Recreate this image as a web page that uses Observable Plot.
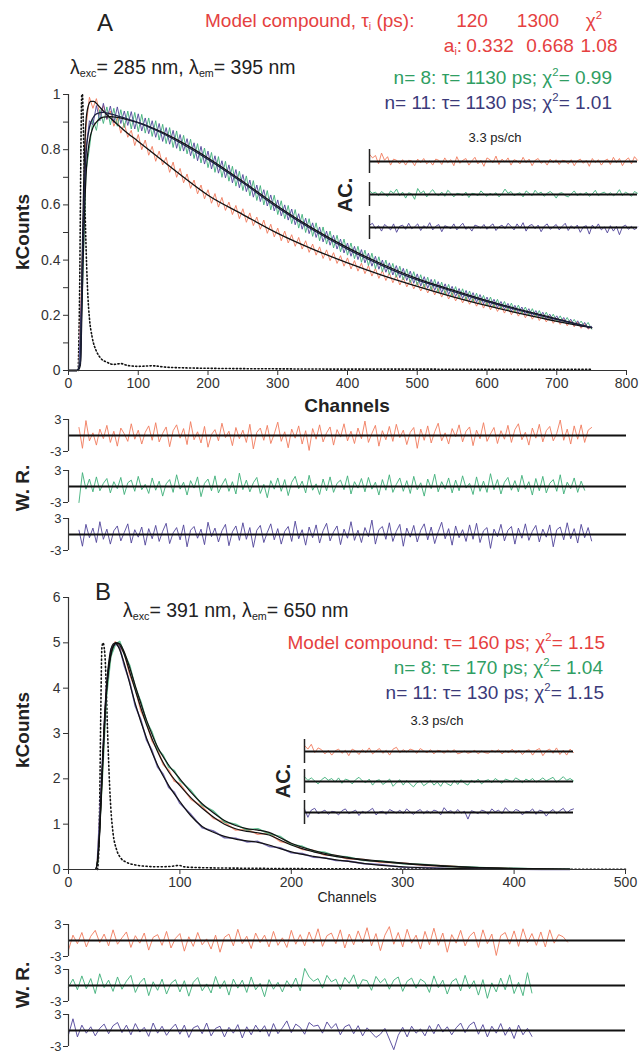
<!DOCTYPE html>
<html><head><meta charset="utf-8">
<script src="https://cdn.jsdelivr.net/npm/d3@7"></script>
<script src="https://cdn.jsdelivr.net/npm/@observablehq/plot@0.6"></script>
<style>
body{margin:0;background:#fff;}
#fig{position:relative;width:643px;height:1056px;font-family:"Liberation Sans",Arial,Helvetica,sans-serif;color:#222;overflow:hidden;background:#fff}
.t{position:absolute;white-space:nowrap;line-height:1;}
sub{font-size:0.55em;vertical-align:-0.3em;line-height:0}
sup{font-size:0.6em;vertical-align:0.65em;line-height:0}
</style></head><body><div id="fig"></div><script>
// ---------------- Panel A data ----------------
const xTicksA = [0,100,200,300,400,500,600,700,800];
const yTicksA = [0,0.2,0.4,0.6,0.8,1];
const yMinorA = [0.1,0.3,0.5,0.7,0.9];
// instrument response (dotted)
const irfChA = [14,16,18,19,20,21,22,23,24,26,28,30,34,40,46,55,65,75,85,100,120,140,160,200,300,400,500,600,750];
const irfA   = [0,0.3,0.85,1.0,1.0,0.92,0.8,0.68,0.56,0.38,0.26,0.19,0.12,0.07,0.045,0.03,0.022,0.025,0.018,0.015,0.017,0.012,0.01,0.008,0.006,0.005,0.005,0.004,0.004];
// fitted curves
const fitChRedA = [0,12,15,17,20,22,25,28,32,36,42,50,60,80,100,130,160,200,250,300,350,400,450,500,550,600,650,700,750];
const fitRedA   = [0,0,0.01,0.03,0.45,0.7,0.9,0.955,0.975,0.975,0.962,0.94,0.915,0.87,0.83,0.77,0.71,0.635,0.565,0.497,0.44,0.39,0.345,0.305,0.268,0.235,0.205,0.178,0.155];
const fitChA    = [0,12,15,17,20,22,25,30,35,40,50,60,80,100,130,160,200,250,300,350,400,450,500,550,600,650,700,750];
const fitBlueA  = [0,0,0.01,0.03,0.4,0.6,0.78,0.88,0.915,0.93,0.935,0.93,0.915,0.898,0.865,0.825,0.765,0.68,0.59,0.51,0.44,0.38,0.328,0.288,0.25,0.216,0.185,0.155];
const fitGreenA = [0,0,0.005,0.02,0.3,0.5,0.7,0.83,0.88,0.9,0.918,0.92,0.912,0.898,0.868,0.83,0.77,0.685,0.595,0.515,0.445,0.385,0.333,0.292,0.253,0.219,0.187,0.155];
// measured decays, counts, every 5 channels from channel 15
const dataStartA = 15, dataStepA = 5;
const countsRedA = [10,430,880,990,950,985,925,960,910,940,885,915,860,895,845,870,815,855,800,835,780,812,758,795,745,772,718,755,700,732,680,712,660,690,640,672,622,655,606,641,592,627,580,610,565,598,550,586,537,571,525,556,512,545,497,530,484,516,470,505,462,492,450,482,440,470,428,458,418,448,406,437,398,427,388,416,378,408,368,398,360,389,351,380,342,370,334,362,326,353,318,345,310,337,303,328,296,320,288,313,281,305,274,298,266,290,259,283,252,276,245,268,240,262,233,256,226,250,220,243,214,236,208,230,202,224,197,218,191,213,186,207,181,201,176,196,171,190,167,185,162,180,158,175,153,170,150,158];
const countsBlueA = [10,380,800,905,890,960,905,968,910,958,898,955,895,940,888,938,875,930,868,915,858,905,845,895,830,880,820,870,805,855,795,840,778,825,760,812,748,795,730,778,715,760,698,745,680,728,662,710,648,690,628,672,612,655,596,636,578,618,560,600,545,585,528,568,512,552,496,535,482,520,466,505,454,490,440,476,426,462,414,450,402,438,390,425,378,414,367,400,356,390,346,380,336,370,326,360,316,350,306,340,298,330,290,322,282,314,275,305,268,297,261,290,254,282,247,275,241,266,234,258,228,250,222,243,215,236,209,230,203,224,197,217,191,211,185,204,180,198,174,192,168,186,163,180,157,174,152,160];
const countsGreenA = [5,290,720,805,910,870,945,895,955,890,950,885,945,880,940,875,935,865,928,860,915,848,905,835,892,822,880,808,868,795,852,785,838,768,822,752,806,735,790,718,775,700,758,686,740,668,722,652,705,633,688,616,670,600,652,582,635,565,615,550,598,532,583,516,566,500,550,486,535,470,520,458,505,444,490,430,476,418,462,405,450,392,436,380,425,369,412,358,400,348,388,338,378,328,368,318,358,309,347,300,338,292,330,284,320,277,312,270,304,262,296,256,288,249,280,243,272,236,266,230,258,224,250,218,244,212,237,206,230,200,224,195,217,189,211,184,204,178,198,173,192,168,185,163,179,158,174,150];
// weighted residuals, every 5 channels from channel 15
const wrRedA = [1.5,-2.4,2.8,-1.0,0.5,-1.8,1.2,-0.6,1.9,-1.3,0.8,-2.0,1.4,0.3,-1.1,2.2,-0.7,1.0,-1.6,0.6,1.8,-0.9,2.4,-1.2,0.4,1.6,-2.1,0.9,2.0,-0.5,1.3,-1.7,2.6,-0.8,0.7,-1.4,1.7,-2.2,0.2,1.1,-1.0,2.3,-0.4,0.8,-1.9,1.5,-0.6,1.0,-1.3,2.1,-2.5,0.6,1.4,-0.9,1.9,-1.5,0.3,2.5,-1.1,0.7,-2.3,1.2,-0.5,1.8,-1.6,0.9,-2.8,1.3,-0.7,2.0,-1.2,0.5,1.6,-1.8,1.1,-0.3,2.2,-1.0,0.8,-1.5,1.4,-0.6,2.7,-1.3,0.4,1.9,-2.0,0.9,-0.8,1.7,-1.1,2.1,-0.4,1.0,-1.7,0.6,1.5,-2.4,1.2,-0.9,1.8,-1.4,0.7,2.3,-1.0,0.5,-1.6,1.3,-0.2,2.0,-1.2,0.8,1.6,-1.9,1.0,-0.6,2.4,-1.1,0.3,1.5,-1.5,0.9,-0.7,1.9,-1.3,1.1,2.2,-0.8,0.6,-1.8,1.4,-0.5,2.1,-1.2,0.9,1.7,-1.0,0.4,2.9,-0.9,1.2,-1.6,1.8,-0.7,2.0,-1.3,1.0,1.5];
const wrGreenA = [-3.0,2.6,-0.5,1.4,-1.0,1.8,-0.8,0.6,1.5,-1.2,0.9,-0.4,1.7,-1.5,0.7,1.2,-0.9,1.9,-0.6,0.4,-1.3,1.6,-0.7,1.0,-1.8,0.5,1.3,-1.1,2.2,-0.5,0.8,-1.6,1.1,-0.3,1.8,-1.9,0.6,1.4,-0.8,2.0,-1.2,0.3,1.5,-0.9,0.9,-1.4,2.5,-0.6,1.2,-1.0,0.7,1.7,-1.3,0.4,-2.1,1.1,-0.5,1.6,-0.9,1.3,-1.7,0.8,1.9,-0.4,1.0,-1.2,2.1,-0.7,0.5,-1.5,1.4,-0.8,1.8,-1.1,0.6,1.2,-0.6,2.0,-1.4,0.9,-0.3,1.5,-1.0,1.7,-0.5,0.8,-1.6,1.3,-0.7,2.2,-1.1,0.4,1.6,-0.9,1.1,-1.3,1.9,-0.6,0.7,-1.8,1.4,-0.4,2.3,-1.0,0.9,-0.5,1.6,-1.2,1.2,-0.8,2.0,-0.3,0.6,-1.5,1.8,-0.9,1.0,-1.1,2.4,-0.6,1.3,-1.4,0.8,1.7,-0.7,1.1,-1.0,2.1,-0.5,0.9,-1.6,1.5,-0.8,1.9,-1.2,0.6,1.3,-0.9,2.2,-1.4,0.8,-0.4,1.6,-1.1,1.0,-0.7];
const wrBlueA = [0.8,-2.2,1.9,-0.6,1.2,-1.5,2.4,-0.9,1.0,-1.8,0.7,1.6,-1.2,0.4,2.0,-1.6,0.9,-0.5,1.4,-2.0,1.1,-0.8,1.7,-1.3,0.6,2.1,-1.7,0.3,1.3,-1.0,1.8,-2.3,0.8,1.5,-0.7,1.0,-1.9,2.3,-0.4,1.2,-1.4,0.7,1.9,-2.1,0.5,1.6,-1.1,2.2,-0.9,1.3,-2.4,0.8,1.7,-1.5,0.4,2.0,-1.0,1.1,-1.8,0.6,1.5,-1.3,2.5,-0.8,0.9,-2.0,1.4,-0.6,1.8,-1.6,0.7,2.1,-1.2,0.5,1.6,-1.9,1.0,-0.7,2.4,-1.1,0.8,-1.5,1.3,-0.4,2.7,-1.8,0.9,1.5,-0.9,2.2,-1.3,0.6,1.9,-2.2,1.2,-0.5,1.7,-1.4,0.8,2.0,-1.0,1.4,-1.7,0.5,2.3,-0.8,1.1,-2.0,1.6,-0.6,0.9,-1.3,1.8,-0.9,2.1,-1.5,0.7,1.3,-2.6,1.0,-0.4,1.9,-1.2,0.8,1.5,-1.8,1.2,-0.7,2.0,-1.1,0.6,1.7,-1.4,1.0,-0.5,1.8,-2.3,0.9,1.4,-1.0,2.2,-0.8,1.1,-1.6,1.9,-0.6,1.3,-1.2];
// autocorrelation of residuals
const acRedA = [0.6,0.3,0.5,-0.2,0.7,0.1,0.4,-0.3,0.2,0.1,-0.2,0.15,-0.3,0.1,0.05,-0.35,0.2,-0.1,0.25,-0.2,0.05,-0.3,0.2,0.1,-0.25,0.3,-0.1,0.15,-0.35,0.4,-0.15,0.1,0.25,-0.3,0.05,0.35,-0.2,0.1,-0.4,0.3,0.15,-0.1,0.45,-0.25,0.2,-0.05,0.3,-0.3,0.15,0.05,-0.2,0.35,-0.1,0.2,-0.35,0.1,0.25,-0.15,0.05,-0.3,0.2,-0.1,0.15,-0.25,0.1,0.05,-0.2,0.15,-0.35,0.05,0.2,-0.15,0.1,-0.4,0.25,-0.1,0.15,-0.3,0.05,0.2,-0.25,0.35,-0.1,0.25,-0.35,0.1,0.3,-0.2,0.4,0.1];
const acGreenA = [0.3,0.1,0.2,-0.1,0.25,0.05,-0.15,0.3,0.1,0.45,-0.1,0.2,-0.3,0.15,0.05,-0.4,0.5,0.1,0.3,-0.2,0.15,0.4,0.05,-0.1,0.2,-0.15,0.35,0.1,-0.2,0.1,0.05,-0.1,0.2,-0.25,0.1,0.05,-0.1,0.3,0.05,-0.15,0.1,-0.05,0.15,-0.2,0.05,0.45,0.1,0.25,-0.1,0.05,0.15,-0.2,0.3,0.1,-0.1,0.35,0.05,0.2,-0.15,0.1,0.25,0.05,-0.3,0.1,0.15,-0.1,-0.2,0.05,0.3,-0.1,0.1,-0.05,0.2,-0.15,0.05,0.35,-0.1,0.1,0.2,-0.05,0.15,-0.1,0.05,0.4,-0.1,0.2,0.05,-0.15,0.25,0.1];
const acBlueA = [0.2,0.35,-0.1,0.15,-0.3,0.25,0.05,-0.2,0.3,-0.4,0.1,0.2,-0.15,0.35,-0.1,0.05,0.3,-0.25,0.15,-0.05,0.4,-0.2,0.1,0.25,-0.35,0.15,0.05,-0.1,0.3,-0.2,0.1,0.35,-0.15,0.05,-0.3,0.2,0.1,-0.05,0.25,-0.15,0.1,0.3,-0.25,0.05,0.2,-0.1,0.35,0.1,-0.2,0.3,-0.05,0.4,-0.3,0.15,0.25,-0.1,0.2,-0.35,0.1,0.3,-0.15,0.05,0.25,-0.2,0.1,0.35,-0.25,0.15,-0.1,0.2,-0.4,0.05,0.15,-0.55,0.2,-0.1,0.3,-0.2,0.05,-0.45,0.15,-0.3,0.1,-0.6,0.05,0.2,-0.15,0.1,-0.2,0.05];

// ---------------- Panel B data ----------------
const xTicksB = [0,100,200,300,400,500];
const yTicksB = [0,1,2,3,4,5,6];
const irfChB = [26,27,28,29,30,31,32,33,34,35,36,37,38,40,43,47,52,60,70,80,90,100,103,120,150,200,300,400,500];
const irfB   = [0,0.3,1.5,3.5,4.9,5.0,4.9,4.6,3.9,3.1,2.4,1.8,1.35,0.8,0.45,0.25,0.16,0.1,0.07,0.06,0.065,0.09,0.06,0.04,0.03,0.02,0.01,0.005,0.005];
const fitChB     = [0,24,26,28,30,32,34,36,38,40,43,46,50,55,60,70,80,90,100,110,120,130,140,150,160,170,180,190,200,220,250,288,330,362,400,450];
const fitGreenB  = [0,0,0.15,0.8,1.9,3.0,3.85,4.4,4.72,4.9,5.0,4.98,4.8,4.45,4.05,3.3,2.7,2.3,2.0,1.7,1.45,1.25,1.08,0.97,0.9,0.87,0.82,0.7,0.58,0.42,0.27,0.17,0.09,0.05,0.025,0.008];
const fitRedB    = [0,0,0.18,0.85,2.0,3.1,3.9,4.45,4.75,4.92,5.0,4.95,4.75,4.35,3.95,3.2,2.6,2.15,1.85,1.58,1.35,1.16,1.0,0.9,0.84,0.81,0.76,0.65,0.54,0.39,0.25,0.155,0.08,0.045,0.02,0.006];
const fitChPB    = [0,24,26,28,30,32,34,36,38,40,42,45,50,55,60,70,80,90,100,110,120,130,140,150,160,170,180,190,200,220,244,270,307,350,400,450];
const fitBlueB   = [0,0,0.2,0.9,2.1,3.2,4.0,4.55,4.85,4.97,5.0,4.9,4.55,4.1,3.65,2.9,2.3,1.85,1.5,1.18,0.95,0.82,0.73,0.67,0.63,0.6,0.54,0.46,0.39,0.29,0.2,0.12,0.05,0.02,0.005,0];
const dataChB    = [26,30,34,38,42,46,50,55,60,65,70,75,80,85,90,95,100,110,120,130,140,150,160,170,180,190,200,210,220,230,240,250,265,280,300,320,340,360,380,400,425,450];
const dataRedB   = [0.15,1.95,3.95,4.78,5.02,4.9,4.79,4.3,3.99,3.5,3.24,2.84,2.64,2.32,2.19,1.95,1.89,1.55,1.39,1.13,1.04,0.87,0.88,0.78,0.8,0.62,0.57,0.44,0.42,0.32,0.31,0.24,0.22,0.16,0.145,0.09,0.08,0.04,0.038,0.015,0.016,0.004];
const dataGreenB = [0.12,1.85,3.8,4.7,4.96,5.03,4.76,4.5,4.0,3.7,3.26,3.03,2.66,2.52,2.26,2.18,1.96,1.74,1.42,1.29,1.05,1.0,0.87,0.9,0.79,0.73,0.55,0.51,0.4,0.38,0.29,0.28,0.2,0.19,0.13,0.11,0.07,0.056,0.03,0.028,0.012,0.009];
const dataBlueB  = [0.22,2.15,4.02,4.86,4.98,4.9,4.5,4.14,3.6,3.3,2.86,2.62,2.26,2.1,1.81,1.7,1.46,1.21,0.92,0.85,0.7,0.69,0.61,0.62,0.51,0.48,0.37,0.35,0.27,0.26,0.2,0.19,0.13,0.11,0.05,0.045,0.02,0.018,0.006,0.006,0.001,0.0];
// weighted residuals, every 4 channels from channel 0
const wrStartB = 0, wrStepB = 4;
const wrRedB = [-1.8,1.0,-0.6,1.5,-1.2,0.8,1.9,-0.4,1.2,-1.0,2.0,-0.7,0.5,1.6,-1.3,0.9,-0.5,1.4,-1.8,0.6,1.1,-0.9,1.7,-1.4,0.4,1.3,-2.0,0.7,-1.1,1.5,-0.8,0.3,-1.6,1.0,-2.2,0.6,1.2,-1.0,2.1,-0.6,0.8,-1.5,1.4,-0.4,1.0,-1.2,1.7,-0.9,0.5,-1.3,1.9,-0.7,1.1,-1.0,1.6,-0.5,2.2,-1.1,0.9,1.4,-0.6,2.0,-1.4,1.2,-0.8,1.8,-0.4,2.4,-1.0,1.3,-1.9,1.0,2.6,-0.7,1.5,-1.2,2.1,-0.5,1.0,-1.6,1.7,-0.8,2.3,-0.9,1.4,-2.2,1.1,-0.5,1.9,-1.0,0.8,1.6,-1.3,2.0,-0.6,1.2,-2.8,0.9,1.5,-0.7,1.8,-1.1,2.2,-0.4,1.3,-0.9,1.6,-1.2,2.0,-0.5,1.1,0.7,-0.3];
const wrGreenB = [-0.3,1.2,-0.8,1.8,-0.6,1.3,-1.5,2.2,-0.4,1.0,-1.1,1.6,-0.7,0.8,1.9,-1.3,0.5,1.4,-1.9,0.7,-0.9,1.2,-1.6,0.4,1.1,-1.2,0.9,-2.0,0.6,1.5,-1.0,0.3,-1.4,1.7,-0.6,0.9,-1.8,1.2,-0.5,1.0,-1.3,1.6,-0.8,0.4,-2.1,1.1,-0.7,0.6,-1.2,0.9,-0.4,1.4,-1.0,3.2,1.6,0.8,1.3,-0.5,1.9,0.7,1.2,-0.8,1.5,0.4,2.0,-0.6,1.1,0.9,-0.9,1.7,0.5,1.3,-0.7,1.0,1.6,-1.1,0.8,1.4,-0.5,1.2,0.6,-1.3,1.8,-0.4,1.0,-1.6,0.7,1.3,-1.0,1.9,-0.6,0.9,-1.8,1.1,-2.4,0.5,-1.2,1.4,-0.8,2.0,-1.5,0.6,-1.9,2.4,-1.4];
const wrBlueB = [-0.8,2.2,-1.2,1.0,-0.5,0.7,-1.0,0.4,1.2,-0.6,0.9,1.5,-0.4,1.0,-0.8,1.3,-0.3,0.6,-1.1,1.4,-0.5,0.8,-0.9,0.3,1.2,-0.7,1.0,-1.3,0.5,0.9,-0.6,1.4,-1.0,0.4,0.8,-1.2,0.6,-0.5,1.1,-1.4,0.7,-0.8,1.0,-0.3,0.9,-1.1,1.3,-0.6,0.5,1.8,-0.4,1.2,0.6,-0.7,1.5,0.8,1.0,-0.5,1.6,0.4,1.3,-0.8,0.7,1.1,-0.6,0.9,-1.0,0.5,-0.4,-1.3,-0.7,0.4,-1.6,-3.6,-0.9,0.6,-1.2,0.8,-0.5,0.3,-1.0,0.9,-0.6,1.2,-0.3,0.7,-0.8,0.5,1.4,-0.4,1.0,1.6,-0.7,1.1,-1.2,0.8,-0.5,1.3,-0.9,0.6,-1.5,1.0,-0.8,0.4,-1.1];
const acRedB = [0.5,0.2,0.6,-0.1,0.3,0.15,-0.2,0.1,-0.3,0.05,0.2,-0.15,0.1,-0.35,0.2,0.05,-0.25,0.15,-0.1,0.3,-0.2,0.05,0.25,-0.15,0.1,-0.3,0.2,0.35,-0.1,0.15,-0.05,0.2,0.1,-0.15,0.25,0.05,-0.1,0.15,-0.2,0.1,0.05,-0.15,0.1,-0.05,0.15,-0.2,-0.1,0.05,-0.15,-0.05,0.1,-0.2,0.05,-0.1,-0.15,0.1,-0.05,0.15,-0.2,0.05,-0.1,0.2,-0.15,0.1,-0.25,0.05,0.15,-0.3,0.1,0.25,-0.35,0.05,0.2,-0.15,0.3,-0.25,0.1,-0.3,0.2,-0.1];
const acGreenB = [0.4,0.1,0.3,0.05,-0.2,0.15,0.35,0.1,0.25,-0.05,0.3,-0.15,0.2,0.1,-0.2,0.15,0.35,0.05,-0.1,0.2,-0.3,0.05,0.15,-0.25,-0.05,0.2,-0.4,-0.1,0.15,-0.3,0.1,-0.2,-0.45,-0.1,0.05,-0.35,-0.15,0.1,-0.3,-0.05,-0.4,0.05,-0.2,-0.35,0.1,-0.25,0.15,-0.15,-0.3,0.1,-0.1,0.2,-0.2,0.05,0.15,-0.1,0.25,0.05,-0.15,0.2,0.1,-0.05,0.3,0.15,-0.1,0.2,0.05,0.25,-0.05,0.1,0.3,0.05,0.2,0.35,-0.05,0.15,0.4,0.1,0.25,0.05];
const acBlueB = [0.3,-0.4,0.2,0.35,-0.1,0.05,0.2,-0.15,0.1,0.05,-0.2,0.15,0.3,-0.1,0.05,0.2,-0.25,0.1,-0.05,0.15,0.35,-0.2,0.05,0.1,-0.15,0.25,0.1,-0.05,0.2,-0.1,0.3,0.05,-0.15,0.1,0.25,-0.1,0.15,-0.05,0.2,0.1,-0.2,0.4,0.05,0.15,-0.1,0.25,-0.05,0.1,-0.55,0.15,0.05,-0.1,0.2,0.1,-0.15,0.3,0.05,0.2,-0.1,0.4,0.1,-0.05,0.25,0.15,-0.2,0.1,0.05,0.3,-0.15,0.2,0.1,-0.3,0.05,0.25,-0.1,0.15,0.35,-0.05,0.2,0.3];

// ---------------- drawing ----------------
const C = {red:"#f07a5c", green:"#3daf78", blue:"#4f4399", tRed:"#e5413f", tGreen:"#2f9e63", tBlue:"#3b3a7a", fit:"#111", axis:"#333"};
const FONT = '"Liberation Sans", Arial, Helvetica, sans-serif';
const fig = document.getElementById("fig");
const st = (fs=14) => ({background:"transparent", overflow:"visible", fontFamily:FONT, fontSize:fs+"px", color:"#333"});
function put(svg, top){ svg.style.position="absolute"; svg.style.left="0px"; svg.style.top=top+"px"; fig.appendChild(svg); }
function txt(html, x, y, o={}){
  const d=document.createElement("div"); d.className="t"; d.innerHTML=html;
  const ax = o.anchor==="middle"?-50:o.anchor==="end"?-100:0;
  d.style.left=x+"px"; d.style.top=y+"px"; d.style.fontSize=(o.size||19)+"px"; d.style.color=o.color||"#222";
  if(o.bold) d.style.fontWeight="bold";
  d.style.transform=`translate(${ax}%,-50%)`+(o.rotate?` rotate(${o.rotate}deg)`:"");
  fig.appendChild(d);
}
const seq = (vals, start, step, k=1) => vals.map((v,i)=>({x:start+step*i, y:v*k}));
const pairs = (xs, ys) => ys.map((y,i)=>({x:xs[i], y}));

// Panel A main
put(Plot.plot({
  width:643, height:330, marginLeft:68, marginRight:17, marginTop:14, marginBottom:40, style:st(14),
  x:{domain:[0,800]}, y:{domain:[0,1]},
  marks:[
    Plot.line(pairs(irfChA, irfA), {x:"x", y:"y", stroke:"#111", strokeWidth:1.6, strokeDasharray:"1.2,2.4", curve:"monotone-x"}),
    Plot.line(seq(countsRedA, dataStartA, dataStepA, 0.001), {x:"x", y:"y", stroke:C.red, strokeWidth:0.9}),
    Plot.line(seq(countsGreenA, dataStartA, dataStepA, 0.001), {x:"x", y:"y", stroke:C.green, strokeWidth:0.9}),
    Plot.line(seq(countsBlueA, dataStartA, dataStepA, 0.001), {x:"x", y:"y", stroke:C.blue, strokeWidth:0.9}),
    Plot.line(pairs(fitChRedA, fitRedA), {x:"x", y:"y", stroke:C.fit, strokeWidth:1.3, curve:"monotone-x"}),
    Plot.line(pairs(fitChA, fitGreenA), {x:"x", y:"y", stroke:C.fit, strokeWidth:1.3, curve:"monotone-x"}),
    Plot.line(pairs(fitChA, fitBlueA), {x:"x", y:"y", stroke:"#1c2140", strokeWidth:1.3, curve:"monotone-x"}),
    Plot.ruleY([0], {stroke:C.axis, strokeWidth:1.2}),
    Plot.ruleX([0], {stroke:C.axis, strokeWidth:1.2}),
    Plot.axisX({ticks:xTicksA, tickSize:5, tickPadding:3, label:null}),
    Plot.axisY({ticks:yTicksA, tickSize:5, tickPadding:3, tickFormat:d=>String(d), label:null}),
    Plot.axisY({ticks:yMinorA, tickSize:5, tickFormat:()=>"", label:null})
  ]
}), 80);

function acRow(vals, color, left, right, zeroY){
  put(Plot.plot({width:643, height:28, marginLeft:left, marginRight:643-right, marginTop:2, marginBottom:2, style:st(),
    x:{domain:[0, vals.length-1], axis:null}, y:{domain:[-1,1], axis:null},
    marks:[
      Plot.line(seq(vals,0,1), {x:"x", y:"y", stroke:color, strokeWidth:0.9}),
      Plot.ruleY([0], {stroke:"#111", strokeWidth:1.8}),
      Plot.ruleX([0], {stroke:"#222", strokeWidth:1.5})
    ]}), zeroY-14);
}
function wrRow(vals, start, step, color, xmax, mRight, zeroY){
  put(Plot.plot({width:643, height:44, marginLeft:68, marginRight:mRight, marginTop:6, marginBottom:6, style:st(13),
    x:{domain:[0,xmax], axis:null}, y:{domain:[-3,3]},
    marks:[
      Plot.line(seq(vals,start,step), {x:"x", y:"y", stroke:color, strokeWidth:0.9}),
      Plot.ruleY([0], {stroke:"#111", strokeWidth:2}),
      Plot.ruleX([0], {stroke:C.axis, strokeWidth:1.2}),
      Plot.axisY({ticks:[-3,3], tickSize:5, tickPadding:2, tickFormat:d=>String(d), label:null})
    ]}), zeroY-22);
}
acRow(acRedA, C.red, 369, 637, 161);
acRow(acGreenA, C.green, 369, 637, 194);
acRow(acBlueA, C.blue, 369, 637, 227);
wrRow(wrRedA, dataStartA, dataStepA, C.red, 800, 17, 435);
wrRow(wrGreenA, dataStartA, dataStepA, C.green, 800, 17, 486);
wrRow(wrBlueA, dataStartA, dataStepA, C.blue, 800, 17, 534);

// Panel B main
put(Plot.plot({
  width:643, height:329, marginLeft:68, marginRight:18, marginTop:17, marginBottom:40, style:st(14),
  x:{domain:[0,500]}, y:{domain:[0,6]},
  marks:[
    Plot.line(pairs(irfChB, irfB), {x:"x", y:"y", stroke:"#111", strokeWidth:1.6, strokeDasharray:"1.2,2.6", curve:"monotone-x"}),
    Plot.line(pairs(dataChB, dataRedB), {x:"x", y:"y", stroke:C.red, strokeWidth:1.6, strokeOpacity:0.8}),
    Plot.line(pairs(dataChB, dataGreenB), {x:"x", y:"y", stroke:C.green, strokeWidth:1.6, strokeOpacity:0.8}),
    Plot.line(pairs(dataChB, dataBlueB), {x:"x", y:"y", stroke:C.blue, strokeWidth:1.6, strokeOpacity:0.8}),
    Plot.line(pairs(fitChB, fitRedB), {x:"x", y:"y", stroke:C.fit, strokeWidth:1.2, curve:"monotone-x"}),
    Plot.line(pairs(fitChB, fitGreenB), {x:"x", y:"y", stroke:C.fit, strokeWidth:1.2, curve:"monotone-x"}),
    Plot.line(pairs(fitChPB, fitBlueB), {x:"x", y:"y", stroke:C.fit, strokeWidth:1.2, curve:"monotone-x"}),
    Plot.ruleY([0], {stroke:C.axis, strokeWidth:1.2}),
    Plot.ruleX([0], {stroke:C.axis, strokeWidth:1.2}),
    Plot.axisX({ticks:xTicksB, tickSize:5, tickPadding:3, label:null}),
    Plot.axisY({ticks:yTicksB, tickSize:5, tickPadding:3, tickFormat:d=>String(d), label:null})
  ]
}), 580);

acRow(acRedB, C.red, 304, 573, 751);
acRow(acGreenB, C.green, 304, 573, 781);
acRow(acBlueB, C.blue, 304, 573, 812);
wrRow(wrRedB, wrStartB, wrStepB, C.red, 500, 18, 940);
wrRow(wrGreenB, wrStartB, wrStepB, C.green, 500, 18, 985);
wrRow(wrBlueB, wrStartB, wrStepB, C.blue, 500, 18, 1030);

// ---------------- texts ----------------
txt("A", 105, 23, {size:24, anchor:"middle"});
txt("λ<sub>exc</sub>= 285 nm, λ<sub>em</sub>= 395 nm", 70, 68, {size:19.5});
txt("Model compound, τ<sub>i</sub> (ps):", 205, 20, {color:C.tRed});
txt("120", 472, 20, {color:C.tRed, anchor:"middle"});
txt("1300", 538, 20, {color:C.tRed, anchor:"middle"});
txt("χ<sup>2</sup>", 594, 20, {color:C.tRed, anchor:"middle"});
txt("a<sub>i</sub>:", 462, 45, {color:C.tRed, anchor:"end"});
txt("0.332", 490, 45, {color:C.tRed, anchor:"middle"});
txt("0.668", 550, 45, {color:C.tRed, anchor:"middle"});
txt("1.08", 599, 45, {color:C.tRed, anchor:"middle"});
txt("n= 8: τ= 1130 ps; χ<sup>2</sup>= 0.99", 612, 77, {color:C.tGreen, anchor:"end"});
txt("n= 11: τ= 1130 ps; χ<sup>2</sup>= 1.01", 612, 102, {color:C.tBlue, anchor:"end"});
txt("3.3 ps/ch", 495, 137, {size:13, anchor:"middle"});
txt("AC.", 345, 195, {size:20, bold:true, anchor:"middle", rotate:-90});
txt("kCounts", 22, 232, {size:19, bold:true, anchor:"middle", rotate:-90});
txt("Channels", 347, 405, {size:19, bold:true, anchor:"middle"});
txt("W. R.", 22, 488, {size:19, bold:true, anchor:"middle", rotate:-90});

txt("B", 103, 592, {size:24, anchor:"middle"});
txt("λ<sub>exc</sub>= 391 nm, λ<sub>em</sub>= 650 nm", 123, 611, {size:19.5});
txt("Model compound: τ= 160 ps; χ<sup>2</sup>= 1.15", 605, 642, {color:C.tRed, anchor:"end"});
txt("n= 8: τ= 170 ps; χ<sup>2</sup>= 1.04", 603, 667, {color:C.tGreen, anchor:"end"});
txt("n= 11: τ= 130 ps; χ<sup>2</sup>= 1.15", 604, 692, {color:C.tBlue, anchor:"end"});
txt("3.3 ps/ch", 437, 720, {size:13, anchor:"middle"});
txt("AC.", 283, 781, {size:20, bold:true, anchor:"middle", rotate:-90});
txt("kCounts", 22, 730, {size:19, bold:true, anchor:"middle", rotate:-90});
txt("Channels", 347, 897, {size:14, anchor:"middle"});
txt("W. R.", 22, 985, {size:19, bold:true, anchor:"middle", rotate:-90});
</script></body></html>
